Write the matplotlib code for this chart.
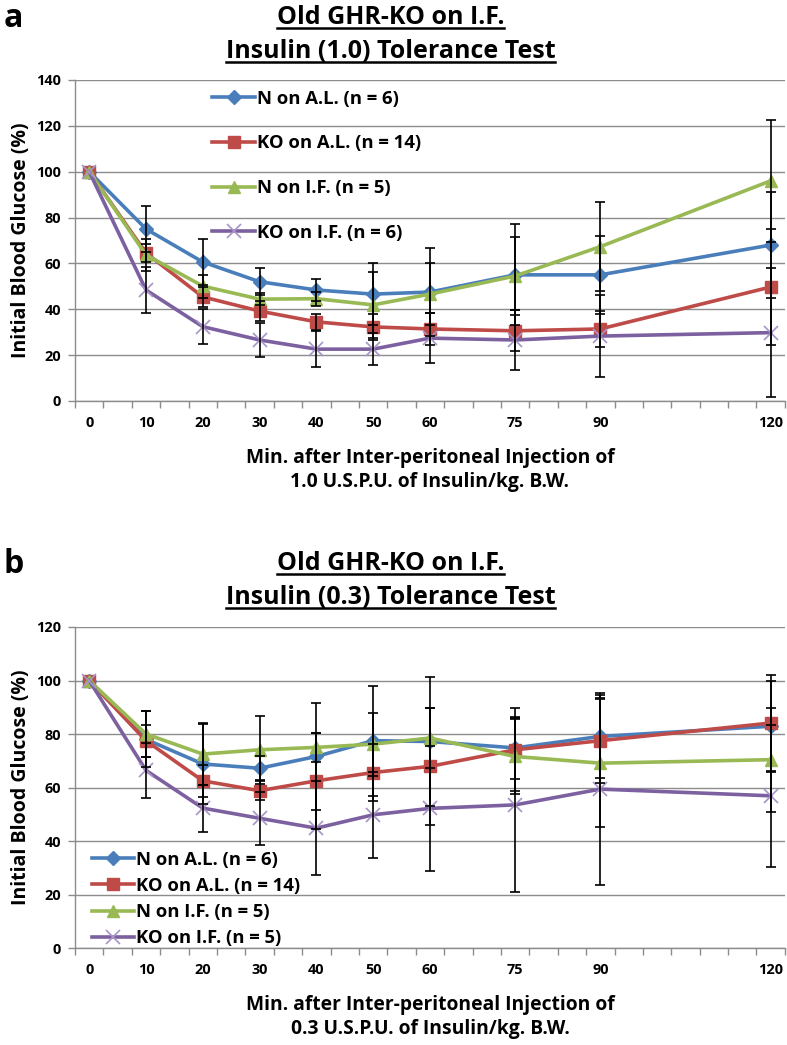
import matplotlib
matplotlib.use("Agg")
import matplotlib.pyplot as plt
from matplotlib.lines import Line2D
import numpy as np

plt.rcParams["font.family"] = ["Open Sans", "DejaVu Sans"]
plt.rcParams["font.weight"] = "bold"

minutes = [0, 10, 20, 30, 40, 50, 60, 75, 90, 120]
series_labels_a = ["N on A.L. (n = 6)", "KO on A.L. (n = 14)", "N on I.F. (n = 5)", "KO on I.F. (n = 6)"]
series_labels_b = ["N on A.L. (n = 6)", "KO on A.L. (n = 14)", "N on I.F. (n = 5)", "KO on I.F. (n = 5)"]

# panel a: insulin 1.0
a_n_al = [100, 75.0, 60.6, 52.0, 48.4, 46.6, 47.5, 55.0, 55.0, 68.0]
a_n_al_err = [0, 10.0, 10.0, 6.0, 5.0, 13.5, 19.0, 22.0, 17.0, 23.0]
a_ko_al = [100, 64.5, 45.4, 39.2, 34.5, 32.3, 31.4, 30.6, 31.4, 49.7]
a_ko_al_err = [0, 4.0, 4.5, 4.5, 3.5, 5.5, 7.0, 9.0, 8.0, 25.5]
a_n_if = [100, 63.7, 50.1, 44.4, 44.6, 41.9, 46.6, 54.5, 67.3, 96.0]
a_n_if_err = [0, 7.0, 5.0, 2.5, 3.0, 14.5, 13.5, 17.0, 19.5, 26.5]
a_ko_if = [100, 48.4, 32.4, 26.6, 22.6, 22.6, 27.4, 26.6, 28.3, 29.8]
a_ko_if_err = [0, 10.0, 7.5, 7.5, 8.0, 7.0, 11.0, 13.0, 17.7, 28.0]

# panel b: insulin 0.3
b_n_al = [100, 78.0, 68.8, 67.2, 71.6, 77.5, 77.2, 74.8, 79.1, 82.9]
b_n_al_err = [0, 10.5, 15.0, 4.5, 20.0, 20.5, 24.0, 11.5, 15.5, 17.0]
b_ko_al = [100, 77.5, 62.5, 58.8, 62.5, 65.6, 67.9, 74.1, 77.5, 84.1]
b_ko_al_err = [0, 6.0, 6.0, 3.5, 18.0, 10.5, 22.0, 15.5, 16.0, 18.0]
b_n_if = [100, 80.0, 72.5, 74.1, 75.0, 76.2, 78.5, 71.6, 69.1, 70.4]
b_n_if_err = [0, 8.5, 11.5, 12.8, 5.5, 11.8, 11.3, 14.0, 23.8, 19.4]
b_ko_if = [100, 66.4, 52.3, 48.5, 44.8, 49.8, 52.2, 53.5, 59.4, 56.9]
b_ko_if_err = [0, 10.2, 8.8, 10.0, 17.5, 16.0, 23.5, 32.5, 36.0, 26.5]

colors = ["#4A7EBB", "#BE4B48", "#98B954", "#7D60A0"]
styles = [
    dict(marker="D", markersize=7),
    dict(marker="s", markersize=9),
    dict(marker="^", markersize=9),
    dict(marker="x", markersize=10, markeredgewidth=1.2, markeredgecolor="#A894C8"),
]

fig = plt.figure(figsize=(7.87, 10.45), dpi=100)
renderer = fig.canvas.get_renderer()


def size_for(text, width_px, base=10):
    # font size that makes text about width_px wide
    t = fig.text(0, 0, text, fontsize=base, fontweight="bold")
    w = t.get_window_extent(renderer).width
    t.remove()
    return base * width_px / w


fs_title = size_for("Insulin (1.0) Tolerance Test", 330)
fs_xlabel = size_for("Min. after Inter-peritoneal Injection of", 370)
fs_ylabel = size_for("Initial Blood Glucose (%)", 235)
fs_legend = size_for("N on A.L. (n = 6)", 142)
fs_tick = size_for("140", 25)


def draw_panel(ax, series, errs, labels, ymax):
    x = np.array(minutes, dtype=float)
    for vals, err, lab, col, st in zip(series, errs, labels, colors, styles):
        vals = np.array(vals)
        err = np.array(err)
        m = err > 0
        ax.errorbar(x[m], vals[m], yerr=err[m], fmt="none", ecolor="black",
                    elinewidth=1.2, capsize=3.5, capthick=1.2, zorder=4)
        ax.plot(x, vals, color=col, linewidth=2.6, label=lab, zorder=3,
                markerfacecolor=col, markeredgecolor=st.get("markeredgecolor", col),
                **{k: v for k, v in st.items() if k != "markeredgecolor"})
    ax.set_xlim(-2.5, 122.5)
    ax.set_ylim(0, ymax)
    ax.set_yticks(np.arange(0, ymax + 1, 20))
    ax.set_xticks(minutes)
    ax.set_xticks(np.arange(-2.5, 123, 5), minor=True)
    ax.tick_params(axis="x", which="major", length=0, pad=11, labelsize=fs_tick)
    ax.tick_params(axis="x", which="minor", length=5, color="#8C8C8C", width=1)
    ax.tick_params(axis="y", length=5, color="#8C8C8C", width=1, labelsize=fs_tick, pad=5)
    ax.grid(axis="y", color="#8C8C8C", linewidth=1)
    ax.set_axisbelow(True)
    for s in ["top", "right"]:
        ax.spines[s].set_visible(False)
    for s in ["left", "bottom"]:
        ax.spines[s].set_color("#8C8C8C")
        ax.spines[s].set_linewidth(1)
    ax.set_ylabel("Initial Blood Glucose (%)", fontsize=fs_ylabel, fontweight="bold", labelpad=4)


ax_a = fig.add_axes([0.0953, 0.6163, 0.902, 0.3072])
ax_b = fig.add_axes([0.0953, 0.0928, 0.902, 0.3072])

draw_panel(ax_a, [a_n_al, a_ko_al, a_n_if, a_ko_if],
           [a_n_al_err, a_ko_al_err, a_n_if_err, a_ko_if_err], series_labels_a, 140)
draw_panel(ax_b, [b_n_al, b_ko_al, b_n_if, b_ko_if],
           [b_n_al_err, b_ko_al_err, b_n_if_err, b_ko_if_err], series_labels_b, 120)

ax_a.legend(loc="upper left", bbox_to_anchor=(0.17, 1.022), frameon=False, fontsize=fs_legend,
            labelspacing=1.45, handlelength=2.3, handletextpad=0.1)
ax_b.legend(loc="lower left", bbox_to_anchor=(0.0, -0.05), frameon=False, fontsize=fs_legend,
            labelspacing=0.45, handlelength=2.3, handletextpad=0.1)

ax_a.set_xlabel("Min. after Inter-peritoneal Injection of\n1.0 U.S.P.U. of Insulin/kg. B.W.",
                fontsize=fs_xlabel, fontweight="bold", labelpad=13, linespacing=1.25)
ax_b.set_xlabel("Min. after Inter-peritoneal Injection of\n0.3 U.S.P.U. of Insulin/kg. B.W.",
                fontsize=fs_xlabel, fontweight="bold", labelpad=13, linespacing=1.25)

titles = []
for y1, y2, dose in [(24, 58, "1.0"), (570, 604, "0.3")]:
    t1 = fig.text(0.496, 1 - y1 / 1045, "Old GHR-KO on I.F.", ha="center", va="baseline",
                  fontsize=fs_title, fontweight="bold")
    t2 = fig.text(0.496, 1 - y2 / 1045, f"Insulin ({dose}) Tolerance Test", ha="center",
                  va="baseline", fontsize=fs_title, fontweight="bold")
    titles += [t1, t2]

fig.text(0.005, 1 - 27 / 1045, "a", fontsize=23, fontweight="bold", va="baseline")
fig.text(0.005, 1 - 573 / 1045, "b", fontsize=23, fontweight="bold", va="baseline")

fig.canvas.draw()
inv = fig.transFigure.inverted()
for t in titles:
    bb = t.get_window_extent(renderer)
    x0, y0 = inv.transform((bb.x0, bb.y0 + 2))
    x1, _ = inv.transform((bb.x1, 0))
    fig.add_artist(Line2D([x0, x1], [y0, y0], color="black", linewidth=1.8,
                          transform=fig.transFigure))

fig.savefig("out.png", dpi=100)
